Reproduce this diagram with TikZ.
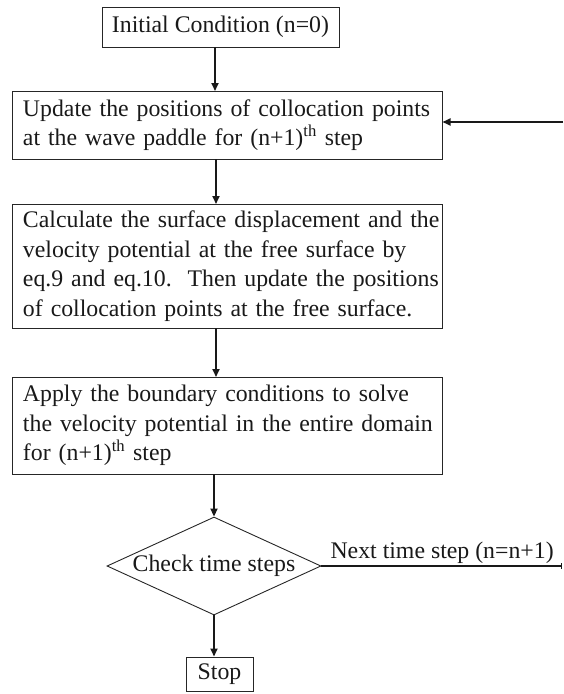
\documentclass[tikz,border=0pt]{standalone}
\usepackage{fontspec}
\setmainfont{Liberation Serif}
\usetikzlibrary{shapes.geometric,arrows.meta}
\newcommand{\oneline}[1]{\mbox{#1}}
\begin{document}
\begin{tikzpicture}[x=1pt,y=1pt,
  every node/.style={font=\fontsize{23.8}{29.5}\selectfont, text=black!90},
  procbox/.style={draw=black!85, line width=1pt, rectangle, inner ysep=0pt, inner xsep=11pt, minimum width=430pt, text width=408pt, align=left},
  smallbox/.style={draw=black!85, line width=1pt, rectangle, inner sep=0pt, align=center},
  decision/.style={draw=black!85, line width=0.9pt, diamond, aspect=2.18, inner sep=0pt, minimum width=214pt, minimum height=98pt},
  flow/.style={draw=black!90, line width=1.8pt, -{Triangle[length=8pt,width=7pt]}}
]
\useasboundingbox (0,0) rectangle (563,-694);
\node[smallbox, minimum width=237pt, minimum height=40pt] (init) at (220.5,-27) {Initial Condition (n=0)};
\node[procbox, minimum height=68pt] (upd) at (227,-125) {\oneline{Update the positions of collocation points}\\\oneline{at the wave paddle for (n+1)\textsuperscript{th} step}};
\node[procbox, minimum height=124pt] (calc) at (227,-266) {\oneline{Calculate the surface displacement and the}\\\oneline{velocity potential at the free surface by}\\\oneline{eq.9 and eq.10.\ \ Then update the positions}\\\oneline{of collocation points at the free surface.}};
\node[procbox, minimum height=97pt] (apply) at (227,-425.5) {\oneline{Apply the boundary conditions to solve}\\\oneline{the velocity potential in the entire domain}\\\oneline{for (n+1)\textsuperscript{th} step}};
\node[decision] (chk) at (214,-566) {Check time steps};
\node[smallbox, minimum width=67pt, minimum height=34pt] (stop) at (219.5,-674) {Stop};
\coordinate (fb) at (563,-122);
\coordinate (ne) at (562,-566);
\draw[flow] (215,-47) -- (215,-91);
\draw[flow] (216,-159) -- (216,-204);
\draw[flow] (216,-328) -- (216,-377);
\draw[flow] (214,-474) -- (chk.north);
\draw[flow] (chk.south) -- (chk.south |- stop.north);
\draw[flow] (fb) -- (upd.east |- fb);
\draw[draw=black!90, line width=1.6pt, -{Bar[width=6pt,line width=1.5pt]}] (chk.east) -- (ne);
\node[anchor=base west] (lbl) at (327,-558) {Next time step (n=n+1)};
\end{tikzpicture}
\end{document}
